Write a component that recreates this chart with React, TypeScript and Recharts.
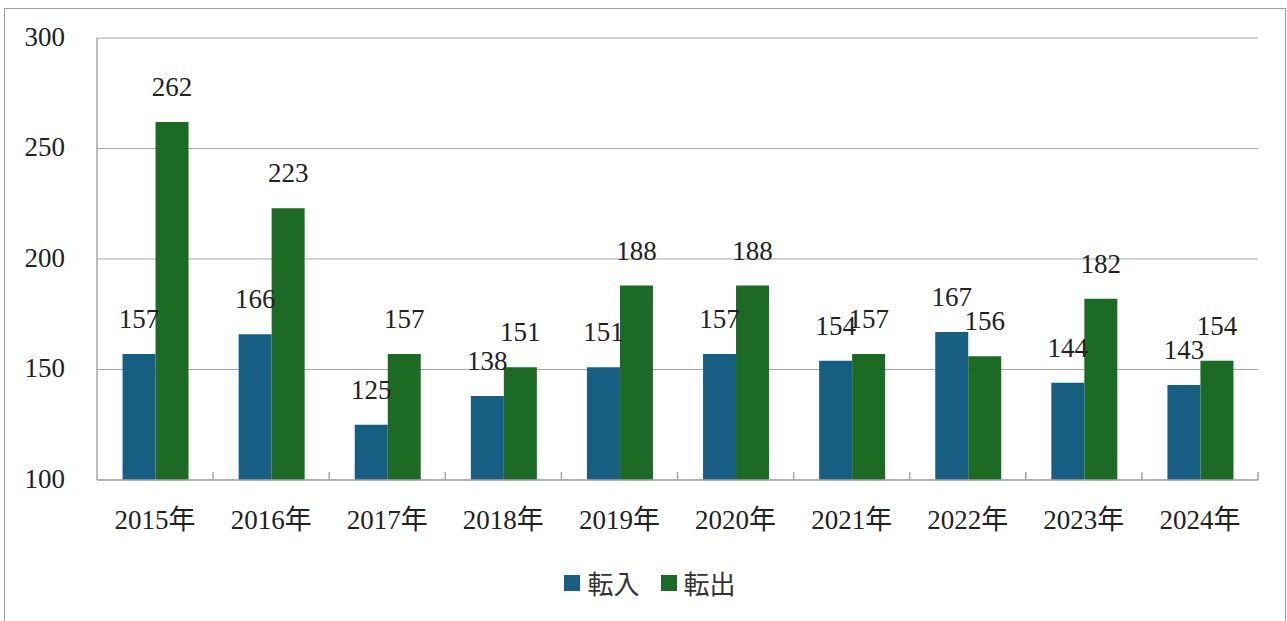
import React from 'react';
import { BarChart, Bar, XAxis, YAxis, CartesianGrid, Legend, LabelList } from 'recharts';

const years = ['2015年', '2016年', '2017年', '2018年', '2019年', '2020年', '2021年', '2022年', '2023年', '2024年'];
const inflow = [157, 166, 125, 138, 151, 157, 154, 167, 144, 143];
const outflow = [262, 223, 157, 151, 188, 188, 157, 156, 182, 154];
const yTicks = [100, 150, 200, 250, 300];

const data = years.map((y, i) => ({ year: y, in: inflow[i], out: outflow[i] }));

const SERIF = "Liberation Serif, Noto Sans CJK JP, serif";
const SANS = "'Noto Sans CJK JP', 'Noto Sans', sans-serif";
const BLUE = '#175f82';
const GREEN = '#1b6b25';
const AXIS = '#a6a6a6';
const X_TICK_MARGIN = 30;
const TICK_MARK = 8;

const textStyle = { fontFamily: SERIF, fontSize: 27, fill: '#222' };

const renderLegend = (props: any) => {
  const { payload } = props;
  return (
    <div style={{ display: 'flex', justifyContent: 'center', paddingLeft: 13 }}>
      {payload.map((p: any, i: number) => (
        <div key={i} style={{ display: 'flex', alignItems: 'center', marginRight: i === 0 ? 21 : 0 }}>
          <div style={{ width: 16, height: 16, background: p.color, marginRight: 7 }} />
          <span style={{ fontFamily: SANS, fontSize: 26, color: '#333', lineHeight: '34px' }}>{p.value}</span>
        </div>
      ))}
    </div>
  );
};

const CategoryTick = (props: any) => {
  const { x, y, payload, width, visibleTicksCount } = props;
  const half = width && visibleTicksCount ? width / visibleTicksCount / 2 : (payload?.offset ?? 0);
  const axisY = y - X_TICK_MARGIN;
  const bx = x + half;
  return (
    <g>
      <line x1={bx} x2={bx} y1={axisY} y2={axisY - TICK_MARK} stroke={AXIS} strokeWidth={1.5} />
      <text x={x} y={y} dy="0.71em" textAnchor="middle" fontFamily={SERIF} fontSize={27} fill="#222">
        {payload.value}
      </text>
    </g>
  );
};

export default function App() {
  return (
    <div style={{ position: 'absolute', left: 0, top: 0, width: 1287, height: 621, overflow: 'hidden', background: '#fff' }}>
      <div style={{ position: 'absolute', left: 4, top: 8, width: 1280, height: 660, border: '1px solid #a0a0a0' }} />
      <div style={{ position: 'absolute', left: 0, top: 0 }}>
        <BarChart
          width={1287}
          height={621}
          data={data}
          margin={{ top: 38, right: 29, left: 0, bottom: 81 }}
          barCategoryGap="22%"
          barGap={0}
        >
          <CartesianGrid vertical={false} stroke={AXIS} strokeWidth={1} />
          <XAxis
            dataKey="year"
            height={60}
            axisLine={{ stroke: AXIS, strokeWidth: 1.5 }}
            tickLine={false}
            tickSize={0}
            tickMargin={X_TICK_MARGIN}
            tick={CategoryTick}
            interval={0}
          />
          <YAxis
            width={97}
            domain={[100, 300]}
            ticks={yTicks}
            axisLine={{ stroke: AXIS, strokeWidth: 1.5 }}
            tickLine={false}
            tickSize={0}
            tickMargin={32}
            tick={{ ...textStyle, dy: -2 }}
          />
          <Legend
            content={renderLegend}
            verticalAlign="middle"
            align="center"
            layout="horizontal"
            wrapperStyle={{ top: 566, left: 0, width: 1287 }}
          />
          <Bar dataKey="in" name="転入" fill={BLUE} isAnimationActive={false}>
            <LabelList dataKey="in" position="top" offset={26} style={textStyle} />
          </Bar>
          <Bar dataKey="out" name="転出" fill={GREEN} isAnimationActive={false}>
            <LabelList dataKey="out" position="top" offset={26} style={textStyle} />
          </Bar>
        </BarChart>
      </div>
    </div>
  );
}
